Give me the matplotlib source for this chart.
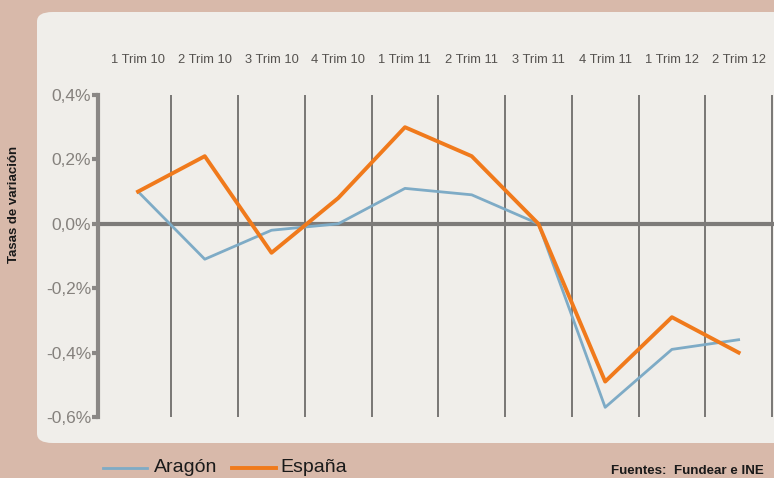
import matplotlib
matplotlib.use("Agg")
import matplotlib.pyplot as plt
from matplotlib.patches import FancyBboxPatch
from matplotlib.lines import Line2D

plt.rcParams["font.family"] = ["Liberation Sans", "DejaVu Sans"]

# data (%)
quarters = ["1 Trim 10", "2 Trim 10", "3 Trim 10", "4 Trim 10", "1 Trim 11",
            "2 Trim 11", "3 Trim 11", "4 Trim 11", "1 Trim 12", "2 Trim 12"]
aragon = [0.10, -0.11, -0.02, 0.00, 0.11, 0.09, 0.00, -0.57, -0.39, -0.36]
espana = [0.10, 0.21, -0.09, 0.08, 0.30, 0.21, 0.00, -0.49, -0.29, -0.40]
yticks = [0.4, 0.2, 0.0, -0.2, -0.4, -0.6]
ytick_labels = ["0,4%", "0,2%", "0,0%", "-0,2%", "-0,4%", "-0,6%"]

BG = "#d8b9aa"
PANEL = "#f0eeea"
GRAY = "#8a8785"
BLUE = "#7eabc6"
ORANGE = "#f07a1c"

W, H = 774, 478
fig = plt.figure(figsize=(W / 100, H / 100), dpi=100, facecolor=BG)

# light rounded panel
panel = FancyBboxPatch((37 / W, (H - 443) / H), (W + 20 - 37) / W, (443 - 12) / H,
                       boxstyle="round,pad=0,rounding_size=0.02",
                       transform=fig.transFigure, facecolor=PANEL, edgecolor="none",
                       zorder=-5)
fig.patches.append(panel)

ax = fig.add_axes([98 / W, (H - 417) / H, (W - 98) / W, (417 - 95) / H])
ax.set_zorder(2)
ax.set_facecolor("none")
x = list(range(len(quarters)))
ax.set_xlim(-0.6, 9.53)
ax.set_ylim(-0.6, 0.4)

# vertical separators between quarters
for i in x:
    ax.axvline(i + 0.5, ymin=0.0, ymax=1.0, color="#6f6d6b", lw=1.3, zorder=1)
ax.axhline(0, color="#7d7b79", lw=3, zorder=2)

ax.plot(x, aragon, color=BLUE, lw=2, zorder=3)
ax.plot(x, espana, color=ORANGE, lw=2.8, zorder=4)

for s in ["top", "right", "bottom"]:
    ax.spines[s].set_visible(False)
ax.spines["left"].set_color(GRAY)
ax.spines["left"].set_linewidth(3)
ax.set_xticks([])
ax.set_yticks(yticks)
ax.set_yticklabels(ytick_labels)
ax.tick_params(axis="y", length=4, width=3, color=GRAY, labelcolor="#85817d",
               labelsize=12.5, pad=1)

# quarter labels along the top
for i, q in zip(x, quarters):
    ax.text(i, 1.11, q, transform=ax.get_xaxis_transform(), ha="center", va="center",
            fontsize=9.3, color="#55524f")

fig.text(14 / W, 1 - 204 / H, "Tasas de variación", rotation=90, ha="center",
         va="center", fontsize=9.5, fontweight="bold", color="#1a1a1a")

# legend
leg_y = 1 - 468 / H
fig.add_artist(Line2D([103 / W, 147 / W], [leg_y, leg_y], color=BLUE, lw=2,
                      transform=fig.transFigure))
fig.text(154 / W, leg_y, "Aragón", ha="left", va="center", fontsize=14, color="#1a1a1a")
fig.add_artist(Line2D([232 / W, 276 / W], [leg_y, leg_y], color=ORANGE, lw=2.8,
                      transform=fig.transFigure))
fig.text(280 / W, leg_y, "España", ha="left", va="center", fontsize=14, color="#1a1a1a")

fig.text(611 / W, 1 - 471 / H, "Fuentes:  Fundear e INE", ha="left", va="center",
         fontsize=9.6, fontweight="bold", color="#1a1a1a")

fig.savefig("out.png", dpi=100, facecolor=BG)
